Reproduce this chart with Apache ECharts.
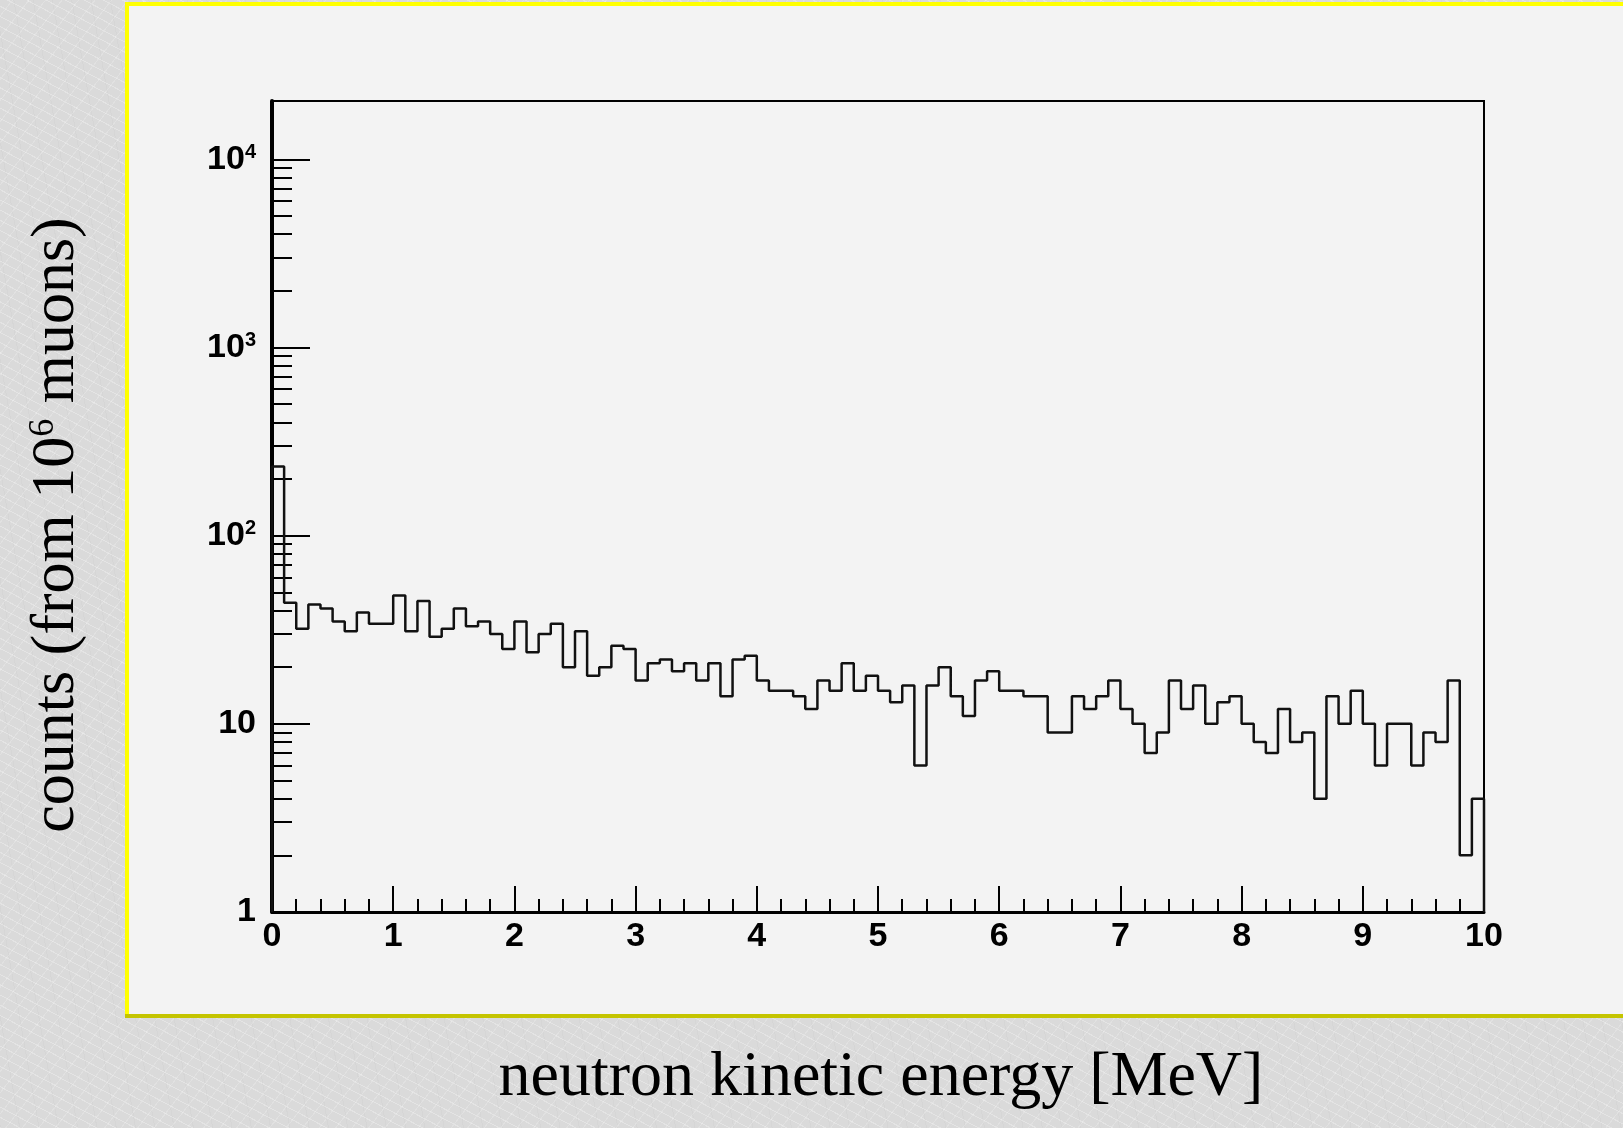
<!DOCTYPE html>
<html>
<head>
<meta charset="utf-8">
<title>neutron kinetic energy</title>
<script src="https://cdn.jsdelivr.net/npm/echarts@6.0.0/dist/echarts.min.js"></script>
<style>
  html, body {
    margin: 0;
    padding: 0;
    width: 1623px;
    height: 1128px;
    overflow: hidden;
    /* grey marble-ish slide background */
    background:
      repeating-linear-gradient(28deg, rgba(255,255,255,0.28) 0 1px, transparent 1px 9px),
      repeating-linear-gradient(-52deg, rgba(255,255,255,0.2) 0 1px, transparent 1px 13px),
      repeating-linear-gradient(80deg, rgba(190,190,190,0.15) 0 1px, transparent 1px 19px),
      #dadada;
  }
  #chart { width: 1623px; height: 1128px; }
</style>
</head>
<body>
<div id="chart"></div>
<script>
// histogram: 100 bins of 0.1 MeV from 0 to 10 MeV
const binWidth = 0.1;
const counts = [
  233, 44, 32, 43, 41, 35, 31, 39, 34, 34,
  48, 31, 45, 29, 32, 41, 33, 35, 30, 25,
  35, 24, 30, 34, 20, 31, 18, 20, 26, 25,
  17, 21, 22, 19, 21, 17, 21, 14, 22, 23,
  17, 15, 15, 14, 12, 17, 15, 21, 15, 18,
  15, 13, 16, 6, 16, 20, 14, 11, 17, 19,
  15, 15, 14, 14, 9, 9, 14, 12, 14, 17,
  12, 10, 7, 9, 17, 12, 16, 10, 13, 14,
  10, 8, 7, 12, 8, 9, 4, 14, 10, 15,
  10, 6, 10, 10, 6, 9, 8, 17, 2, 4
];

// axes
const xTicks = [0, 1, 2, 3, 4, 5, 6, 7, 8, 9, 10];
const yTicks = [1, 10, 100, 1000, 10000];
const yMinorTicks = [
  2, 3, 4, 5, 6, 7, 8, 9,
  20, 30, 40, 50, 60, 70, 80, 90,
  200, 300, 400, 500, 600, 700, 800, 900,
  2000, 3000, 4000, 5000, 6000, 7000, 8000, 9000
];
const yMin = 1;
const yMax = 20400;

const xTitle = 'neutron kinetic energy [MeV]';
const yTitle = ['counts (from 10', '6', ' muons)'];

// outline of the histogram, ROOT style (starts and ends on the x axis)
const histData = [[0, yMin]];
counts.forEach((c, i) => histData.push([i * binWidth, c]));
histData.push([counts.length * binWidth, counts[counts.length - 1]]);
histData.push([counts.length * binWidth, yMin]);

const chart = echarts.init(document.getElementById('chart'), null, { renderer: 'canvas' });

const labelFont = 'Liberation Sans';
const titleFont = '"Liberation Serif", "Times New Roman", serif';

const option = {
  animation: false,
  backgroundColor: 'transparent',
  grid: {
    left: 272,
    top: 101,
    width: 1212,
    height: 811,
    show: true,
    borderColor: '#000',
    borderWidth: 2,
    backgroundColor: 'transparent'
  },
  xAxis: {
    type: 'value',
    min: xTicks[0],
    max: xTicks[xTicks.length - 1],
    interval: 1,
    axisLine: { lineStyle: { color: '#000', width: 3 } },
    axisTick: { inside: true, length: 26, lineStyle: { color: '#000', width: 2 } },
    minorTick: { show: true, splitNumber: 5, length: 13, lineStyle: { color: '#000', width: 2 } },
    splitLine: { show: false },
    axisLabel: {
      margin: 8,
      color: '#000',
      fontSize: 34,
      fontWeight: 'bold',
      fontFamily: labelFont
    }
  },
  yAxis: [
    {
      type: 'log',
      logBase: 10,
      min: yMin,
      max: yMax,
      position: 'left',
      axisLine: { lineStyle: { color: '#000', width: 4 } },
      axisTick: {
        inside: true,
        length: 38,
        customValues: yTicks,
        lineStyle: { color: '#000', width: 2 }
      },
      splitLine: { show: false },
      axisLabel: {
        customValues: yTicks,
        margin: 16,
        formatter: v => {
          const p = Math.round(Math.log10(v));
          if (p === 0) return '{n|1}';
          if (p === 1) return '{n|10}';
          return '{n|10}{e|' + p + '}';
        },
        rich: {
          n: { fontSize: 34, fontWeight: 'bold', fontFamily: labelFont, color: '#000', lineHeight: 34 },
          e: { fontSize: 20, fontWeight: 'bold', fontFamily: labelFont, color: '#000', verticalAlign: 'top', lineHeight: 18 }
        }
      }
    },
    {
      // minor ticks of the log axis
      type: 'log',
      logBase: 10,
      min: yMin,
      max: yMax,
      position: 'left',
      axisLine: { show: false },
      axisLabel: { show: false },
      splitLine: { show: false },
      axisTick: {
        inside: true,
        length: 20,
        customValues: yMinorTicks,
        lineStyle: { color: '#000', width: 2 }
      }
    }
  ],
  series: [
    {
      type: 'line',
      step: 'end',
      data: histData,
      showSymbol: false,
      symbol: 'none',
      lineStyle: { color: '#111', width: 2.5 },
      z: 3
    }
  ],
  graphic: {
    elements: [
      // light panel with yellow bevel border
      {
        type: 'rect', z: -10,
        shape: { x: 127, y: 4, width: 1520, height: 1012 },
        style: { fill: '#f3f3f3' }
      },
      {
        type: 'line', z: -9,
        shape: { x1: 125, y1: 4, x2: 1623, y2: 4 },
        style: { stroke: '#ffff00', lineWidth: 4 }
      },
      {
        type: 'line', z: -9,
        shape: { x1: 127, y1: 2, x2: 127, y2: 1018 },
        style: { stroke: '#ffff00', lineWidth: 4 }
      },
      {
        type: 'line', z: -9,
        shape: { x1: 125, y1: 1016, x2: 1623, y2: 1016 },
        style: { stroke: '#c4c400', lineWidth: 4 }
      },
      // axis titles
      {
        type: 'text', z: 5,
        x: 881, y: 1078,
        style: {
          text: xTitle,
          font: '64px ' + titleFont,
          fill: '#000',
          align: 'center',
          verticalAlign: 'middle'
        }
      },
      {
        type: 'text', z: 5,
        x: 57, y: 525,
        rotation: Math.PI / 2,
        style: {
          text: '{a|' + yTitle[0] + '}{s|' + yTitle[1] + '}{a|' + yTitle[2] + '}',
          align: 'center',
          verticalAlign: 'middle',
          rich: {
            a: { font: '62px ' + titleFont, fill: '#000', lineHeight: 62 },
            s: { font: '36px ' + titleFont, fill: '#000', lineHeight: 36, verticalAlign: 'top' }
          }
        }
      }
    ]
  }
};

chart.setOption(option);
window.addEventListener('resize', () => {
  chart.resize();
});
</script>
</body>
</html>
